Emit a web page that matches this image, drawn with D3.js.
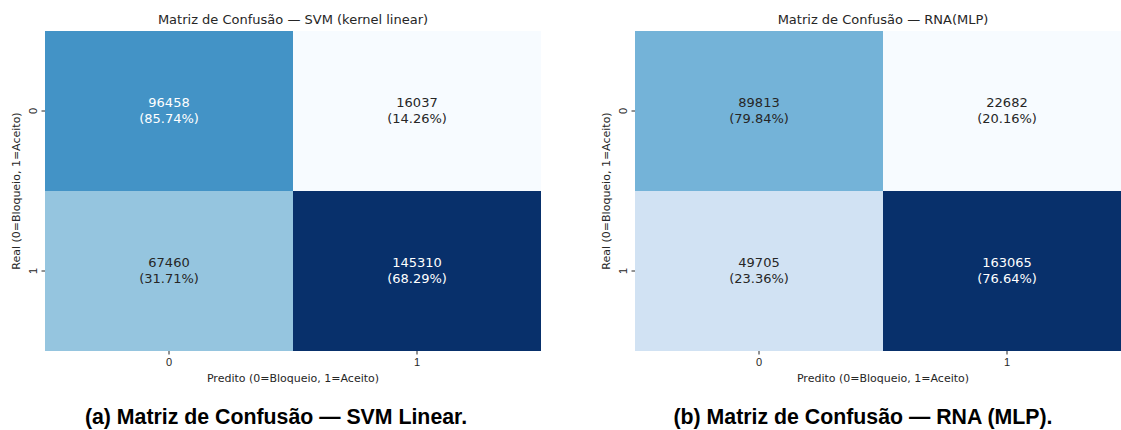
<!DOCTYPE html>
<html>
<head>
<meta charset="utf-8">
<script src="https://cdn.jsdelivr.net/npm/d3@7"></script>
<style>
  body { margin: 0; background: #fff; }
  svg { display: block; font-family: "DejaVu Sans", sans-serif; }
  .tick text { font-size: 11px; fill: #262626; }
  .tick line { stroke: #262626; }
</style>
</head>
<body>
<svg id="chart" width="1121" height="430"></svg>
<script>
'use strict';

const classes = ['0', '1'];
const svmCounts = [[96458, 16037], [67460, 145310]];
const mlpCounts = [[89813, 22682], [49705, 163065]];
const titles = ['Matriz de Confusão — SVM (kernel linear)', 'Matriz de Confusão — RNA(MLP)'];
const captions = ['(a) Matriz de Confusão — SVM Linear.', '(b) Matriz de Confusão — RNA (MLP).'];
const xLabel = 'Predito (0=Bloqueio, 1=Aceito)';
const yLabel = 'Real (0=Bloqueio, 1=Aceito)';

// matplotlib "Blues" stops
const blues = ['#f7fbff', '#deebf7', '#c6dbef', '#9ecae1', '#6baed6', '#4292c6', '#2171b5', '#08519c', '#08306b'];

const W = 496, H = 320; // heatmap size
const panels = [
  {counts: svmCounts, title: titles[0], caption: captions[0], x0: 45, capX: 276},
  {counts: mlpCounts, title: titles[1], caption: captions[1], x0: 635, capX: 863}
];
const topY = 31;

const svg = d3.select('#chart');

function luminance(c) {
  const rgb = d3.rgb(c);
  const f = (v) => { v /= 255; return v <= 0.03928 ? v / 12.92 : Math.pow((v + 0.055) / 1.055, 2.4); };
  return 0.2126 * f(rgb.r) + 0.7152 * f(rgb.g) + 0.0722 * f(rgb.b);
}

panels.forEach((p) => {
  const g = svg.append('g').attr('transform', `translate(${p.x0},${topY})`);
  const x = d3.scaleBand().domain(classes).range([0, W]);
  const y = d3.scaleBand().domain(classes).range([0, H]);
  const flat = p.counts.flat();
  const lo = d3.min(flat), hi = d3.max(flat);
  const color = d3.scaleLinear()
    .domain(d3.range(blues.length).map((i) => lo + (hi - lo) * i / (blues.length - 1)))
    .range(blues)
    .interpolate(d3.interpolateRgb);

  const cells = [];
  p.counts.forEach((row, r) => {
    const tot = d3.sum(row);
    row.forEach((v, c) => cells.push({r: classes[r], c: classes[c], v, pct: v / tot * 100}));
  });

  const cg = g.selectAll('g.cell').data(cells).join('g').attr('class', 'cell');
  cg.append('rect')
    .attr('x', (d) => x(d.c))
    .attr('y', (d) => y(d.r))
    .attr('width', x.bandwidth())
    .attr('height', y.bandwidth())
    .attr('fill', (d) => color(d.v));
  const txt = cg.append('text')
    .attr('text-anchor', 'middle')
    .style('font-size', '13px')
    .attr('fill', (d) => luminance(color(d.v)) > 0.408 ? '#262626' : '#ffffff');
  txt.append('tspan')
    .attr('x', (d) => x(d.c) + x.bandwidth() / 2)
    .attr('y', (d) => y(d.r) + y.bandwidth() / 2 - 4)
    .text((d) => d.v);
  txt.append('tspan')
    .attr('x', (d) => x(d.c) + x.bandwidth() / 2)
    .attr('y', (d) => y(d.r) + y.bandwidth() / 2 + 11.5)
    .text((d) => `(${d.pct.toFixed(2)}%)`);

  // axes
  const xa = g.append('g').attr('transform', `translate(0,${H})`)
    .call(d3.axisBottom(x).tickSize(3.5).tickPadding(3.5));
  xa.select('.domain').remove();
  const ya = g.append('g').call(d3.axisLeft(y).tickSize(3.5).tickPadding(3.5));
  ya.select('.domain').remove();
  ya.selectAll('.tick text')
    .attr('text-anchor', 'middle')
    .attr('x', 0).attr('dy', 0)
    .attr('transform', 'translate(-12,0) rotate(-90)')
    .attr('dominant-baseline', 'central');

  g.append('text')
    .attr('x', W / 2).attr('y', H + 31)
    .attr('text-anchor', 'middle')
    .style('font-size', '11px').attr('fill', '#262626')
    .text(xLabel);
  g.append('text')
    .attr('transform', `translate(-25,${H / 2}) rotate(-90)`)
    .attr('text-anchor', 'middle')
    .style('font-size', '11px').attr('fill', '#262626')
    .text(yLabel);
  g.append('text')
    .attr('x', W / 2).attr('y', -7)
    .attr('text-anchor', 'middle')
    .style('font-size', '13px').attr('fill', '#262626')
    .text(p.title);

  svg.append('text')
    .attr('x', p.capX).attr('y', 424)
    .attr('text-anchor', 'middle')
    .style('font-family', '"Liberation Sans", Arial, sans-serif')
    .style('font-weight', 'bold').style('font-size', '21.3px')
    .attr('fill', '#000')
    .text(p.caption);
});
</script>
</body>
</html>
